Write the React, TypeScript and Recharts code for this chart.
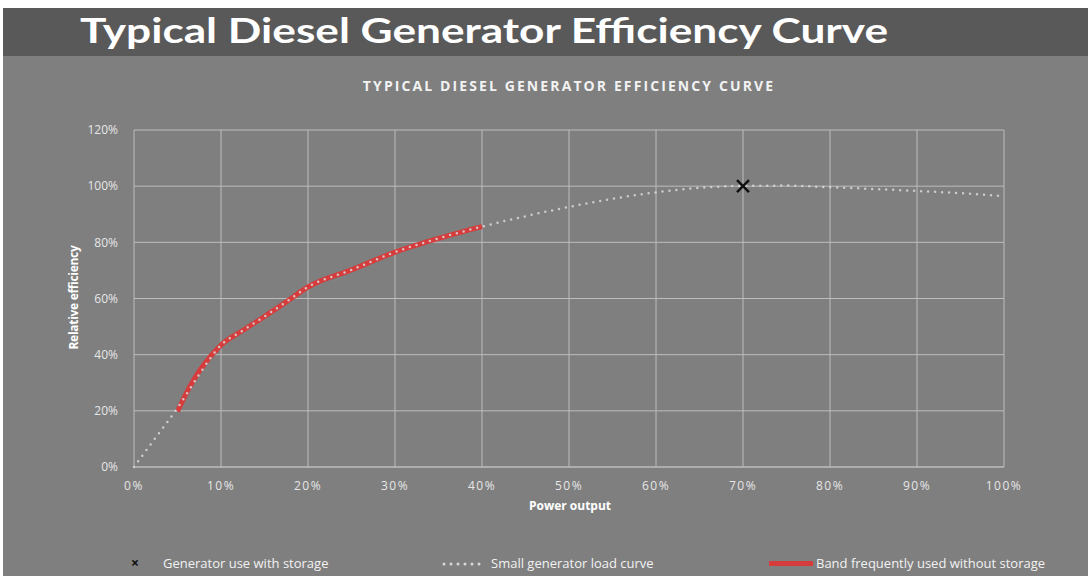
import React from "react";
import { ComposedChart, Line, Scatter, XAxis, YAxis, CartesianGrid } from "recharts";

const loadX = [0, 2.5, 5, 7.5, 10, 12.5, 15, 17.5, 20, 25, 30, 35, 40, 45, 50, 55, 60, 65, 70, 75, 80, 85, 90, 95, 100];
const loadY = [0, 10.5, 21, 33, 43.4, 48.6, 53.6, 58.8, 64.1, 70.2, 76.5, 81.4, 85.6, 89.3, 92.6, 95.5, 97.8, 99.4, 100.1, 100.2, 99.6, 99, 98.3, 97.5, 96.4];

const bandX = [5, 6.5, 8, 10, 12.5, 15, 17.5, 20, 25, 30, 35, 40];
const bandY = [19.8, 29.1, 36.3, 43.4, 48.6, 53.6, 58.8, 64.1, 70.2, 76.5, 81.4, 85.6];

const storageX = [70];
const storageY = [100];

const xTicks = [0, 10, 20, 30, 40, 50, 60, 70, 80, 90, 100];
const yTicks = [0, 20, 40, 60, 80, 100, 120];

const loadData = loadX.map((x, i) => ({ x, y: loadY[i] }));
const bandData = bandX.map((x, i) => ({ x, y: bandY[i] }));
const storageData = storageX.map((x, i) => ({ x, y: storageY[i] }));

const FONT = "'Open Sans', 'Liberation Sans', sans-serif";

const XShape = (props: any) => {
  const { cx, cy } = props;
  const s = 6;
  return (
    <g>
      <line x1={cx - s} y1={cy - s} x2={cx + s} y2={cy + s} stroke="#111" strokeWidth={2.5} />
      <line x1={cx - s} y1={cy + s} x2={cx + s} y2={cy - s} stroke="#111" strokeWidth={2.5} />
    </g>
  );
};

export default function App() {
  return (
    <div style={{ position: "absolute", left: 3, top: 8, width: 1085, height: 568, background: "#7f7f7f", fontFamily: FONT, overflow: "hidden" }}>
      <div style={{ position: "absolute", left: 0, top: 0, width: 1085, height: 48, background: "#595959" }}>
        <svg width={1085} height={48}>
          <text x={77} y={35} fill="#ffffff" fontFamily="Lato, 'DejaVu Sans', sans-serif" fontWeight={700} fontSize={34} textLength={808} lengthAdjust="spacingAndGlyphs">
            Typical Diesel Generator Efficiency Curve
          </text>
        </svg>
      </div>
      <div style={{ position: "absolute", left: 0, top: 68, width: 1132, textAlign: "center", color: "#f2f2f2", fontSize: 14, fontWeight: 700, letterSpacing: 2.1 }}>
        TYPICAL DIESEL GENERATOR EFFICIENCY CURVE
      </div>
      <div style={{ position: "absolute", top: 48, left: 0 }}>
        <ComposedChart width={1085} height={520} margin={{ top: 74, right: 84, bottom: 79, left: 71 }}>
          <CartesianGrid stroke="#bdbdbd" strokeWidth={1} />
          <XAxis
            type="number"
            dataKey="x"
            domain={[0, 100]}
            ticks={xTicks}
            tickFormatter={(v) => `${v}%`}
            height={30}
            axisLine={{ stroke: "#bdbdbd" }}
            tickLine={false}
            tickMargin={8}
            tick={{ fill: "#e6e6e6", fontSize: 12, letterSpacing: 1.5, fontFamily: FONT }}
            allowDuplicatedCategory={false}
          />
          <YAxis
            type="number"
            dataKey="y"
            domain={[0, 120]}
            ticks={yTicks}
            tickFormatter={(v) => `${v}%`}
            width={60}
            axisLine={false}
            tickLine={false}
            tickMargin={10}
            tick={{ fill: "#e6e6e6", fontSize: 12, fontFamily: FONT }}
          />
          <Line
            data={bandData}
            dataKey="y"
            type="monotone"
            stroke="#d63c3c"
            strokeWidth={5}
            dot={false}
            isAnimationActive={false}
          />
          <Line
            data={loadData}
            dataKey="y"
            type="monotone"
            stroke="#d9d9d9"
            strokeWidth={2.5}
            strokeDasharray="0 7"
            strokeLinecap="round"
            strokeOpacity={0.85}
            dot={false}
            isAnimationActive={false}
          />
          <Scatter data={storageData} dataKey="y" shape={XShape} isAnimationActive={false} />
        </ComposedChart>
      </div>
      <div style={{ position: "absolute", left: 467, top: 489, width: 200, textAlign: "center", color: "#ffffff", fontSize: 12, fontWeight: 700 }}>
        Power output
      </div>
      <div style={{ position: "absolute", left: 70, top: 290, width: 0, height: 0 }}>
        <div style={{ position: "absolute", left: -80, top: -9, width: 160, textAlign: "center", color: "#ffffff", fontSize: 12, fontWeight: 700, transform: "rotate(-90deg)", letterSpacing: -0.3 }}>
          Relative efficiency
        </div>
      </div>
      <div style={{ position: "absolute", left: 0, top: 545, width: 1085, height: 20, color: "#f2f2f2", fontSize: 13 }}>
        <span style={{ position: "absolute", left: 128, top: 0, fontWeight: 700, fontSize: 14, color: "#111" }}>×</span>
        <span style={{ position: "absolute", left: 160, top: 1 }}>Generator use with storage</span>
        <svg style={{ position: "absolute", left: 438, top: 8 }} width={44} height={6}>
          <line x1={3} y1={3} x2={42} y2={3} stroke="#d9d9d9" strokeWidth={3} strokeDasharray="0 7" strokeLinecap="round" />
        </svg>
        <span style={{ position: "absolute", left: 488, top: 1 }}>Small generator load curve</span>
        <div style={{ position: "absolute", left: 766, top: 8, width: 44, height: 5, background: "#d63c3c" }} />
        <span style={{ position: "absolute", left: 813, top: 1 }}>Band frequently used without storage</span>
      </div>
    </div>
  );
}
